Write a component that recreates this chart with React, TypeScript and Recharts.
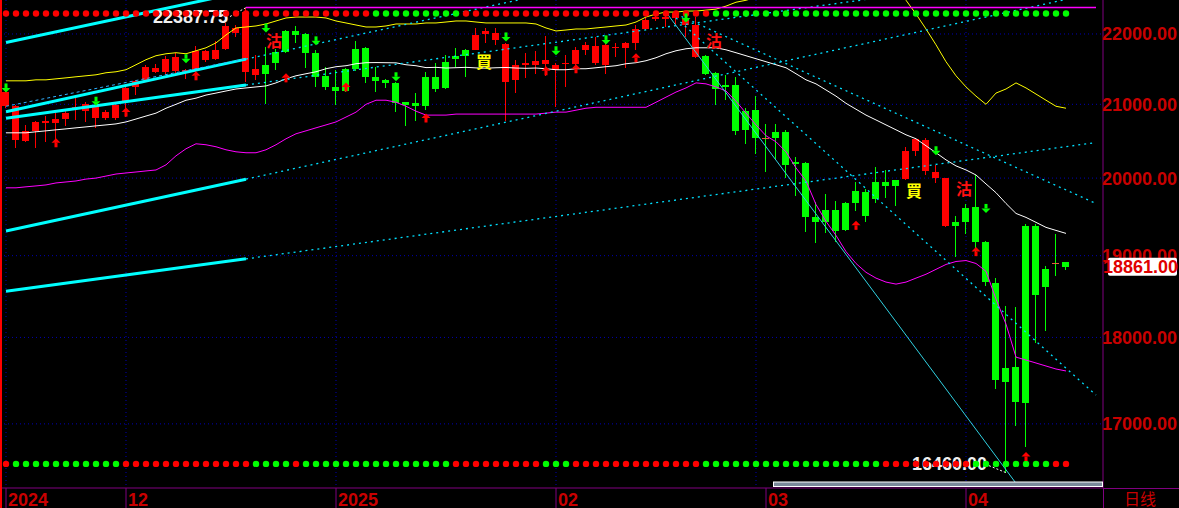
import React from 'react';
import { ComposedChart, Bar, Line, Scatter, XAxis, YAxis, CartesianGrid } from 'recharts';

const dates = [
  '2024-11-13','2024-11-14','2024-11-15','2024-11-18','2024-11-19','2024-11-20','2024-11-21','2024-11-22','2024-11-25','2024-11-26','2024-11-27','2024-11-29',
  '2024-12-02','2024-12-03','2024-12-04','2024-12-05','2024-12-06','2024-12-09','2024-12-10','2024-12-11','2024-12-12','2024-12-13','2024-12-16','2024-12-17','2024-12-18','2024-12-19','2024-12-20','2024-12-23','2024-12-24','2024-12-26','2024-12-27','2024-12-30','2024-12-31',
  '2025-01-02','2025-01-03','2025-01-06','2025-01-07','2025-01-08','2025-01-09','2025-01-10','2025-01-13','2025-01-14','2025-01-15','2025-01-16','2025-01-17','2025-01-20','2025-01-21','2025-01-22','2025-01-23','2025-01-24','2025-01-27','2025-01-28','2025-01-29','2025-01-30','2025-01-31',
  '2025-02-03','2025-02-04','2025-02-05','2025-02-06','2025-02-07','2025-02-10','2025-02-11','2025-02-12','2025-02-13','2025-02-14','2025-02-17','2025-02-18','2025-02-19','2025-02-20','2025-02-21','2025-02-24','2025-02-25','2025-02-26','2025-02-27','2025-02-28',
  '2025-03-03','2025-03-04','2025-03-05','2025-03-06','2025-03-07','2025-03-10','2025-03-11','2025-03-12','2025-03-13','2025-03-14','2025-03-17','2025-03-18','2025-03-19','2025-03-20','2025-03-21','2025-03-24','2025-03-25','2025-03-26','2025-03-27','2025-03-28','2025-03-31',
  '2025-04-01','2025-04-02','2025-04-03','2025-04-04','2025-04-07','2025-04-08','2025-04-09','2025-04-10','2025-04-11','2025-04-14','2025-04-15',
  '2025-04-16','2025-04-17','2025-04-18'
];

const opens = [
  20973,20514,20500,20635,20743,20743,20797,20946,20905,20811,
  20811,20811,21029,21243,21343,21457,21457,21471,21443,21486,
  21629,21643,21786,22015,21457,21414,21557,21743,22044,22044,
  22000,21729,21400,21243,21500,21786,21800,21386,21343,21300,
  21029,21014,21386,21386,21600,21686,21771,21771,22000,21914,
  21314,21343,21557,21557,21571,21486,21571,21571,21771,21586,
  21557,21800,21800,21871,22073,22234,22234,22234,22131,21671,
  21686,21443,21271,21271,20905,20919,20541,20622,20622,20216,
  20203,19487,19577,19577,19679,19833,19821,19949,19949,19974,
  19987,20365,20095,20000,19372,19423,19603,19615,19167,18659,
  17640,17651,19372,19372,18829,18909,18915
];
const highs = [
  21200,20986,20716,20770,20838,20878,20905,21086,21029,21014,
  20919,21000,21240,21343,21557,21571,21686,21729,21500,21829,
  21771,21900,22161,22131,22387.75,21700,21814,21786,22058,22117,
  22015,21771,21529,21486,21514,21900,21814,21529,21350,21310,
  21035,21157,21457,21586,21700,21800,21780,22088,22088,22088,
  21865,21629,21729,21757,21971,21586,21700,21814,21886,21957,
  21957,21871,21880,22131,22234,22321,22321,22321,22248,22248,
  21700,21450,21414,21386,20946,21114,20730,20730,20649,20284,
  20210,19692,19795,19705,19692,19949,19859,20149,20108,19980,
  20419,20535,20541,20176,20005,19500,19654,20041,19180,18720,
  18378,18366,19397,19397,18866,19269,18920
];
const lows = [
  20946,20405,20486,20405,20486,20419,20703,20784,20757,20676,
  20784,20784,20824,21129,21314,21443,21429,21443,21357,21343,
  21600,21629,21771,21957,21314,21343,21000,21486,21729,21871,
  21514,21243,21200,20986,21171,21471,21300,21171,21229,20892,
  20703,20770,20919,21171,21214,21529,21386,21765,21871,21843,
  20770,21157,21371,21429,21400,20959,21243,21443,21700,21557,
  21429,21671,21514,21771,22058,22190,22102,22131,21957,21657,
  21414,20986,21057,20581,20459,20324,20081,20243,20000,19769,
  19295,19154,19282,19167,19308,19564,19423,19679,19744,19628,
  19980,20297,20041,19936,19365,18988,19269,19051,18622,17395,
  16460,16978,16747,17930,18073,18744,18817
];
const closes = [
  21171,20973,20635,20757,20770,20797,20878,20959,21000,20973,
  20892,20986,21229,21329,21529,21514,21643,21671,21486,21757,
  21757,21771,22117,22088,22321,21500,21429,21586,21743,21986,
  21729,21386,21243,21186,21186,21500,21386,21329,21300,21014,
  20986,20973,20973,21214,21229,21643,21686,21986,22044,22015,
  21857,21557,21586,21614,21629,21557,21586,21771,21843,21829,
  21843,21814,21871,22073,22204,22248,22248,22307,22234,22131,
  21429,21214,21243,20635,20649,20541,20541,20541,20176,20189,
  19487,19423,19423,19308,19321,19679,19500,19731,19897,19897,
  20365,20527,20514,20081,20000,19372,19423,19167,18671,17500,
  17477,17244,17233,18512,18610,18909,18861
];

const midBand = [
  20608,20608,20608,20622,20635,20649,20662,20676,20689,20703,
  20716,20730,20757,20797,20838,20878,20946,21000,21057,21086,
  21129,21157,21186,21214,21229,21243,21257,21300,21357,21400,
  21429,21457,21500,21529,21543,21571,21586,21588,21586,21584,
  21557,21543,21516,21520,21510,21515,21520,21512,21508,21514,
  21518,21510,21506,21510,21500,21486,21486,21500,21500,21514,
  21529,21543,21571,21586,21614,21657,21714,21757,21786,21800,
  21800,21800,21771,21729,21686,21643,21600,21557,21514,21429,
  21343,21286,21200,21114,21014,20932,20851,20784,20716,20649,
  20581,20527,20432,20338,20243,20162,20108,20041,19923,19808,
  19667,19538,19487,19423,19359,19320,19282
];
const upperBand = [
  21329,21329,21329,21343,21343,21357,21371,21386,21400,21414,
  21443,21457,21486,21557,21629,21686,21714,21729,21714,21757,
  21800,21871,21986,22088,22102,22117,22146,22190,22234,22248,
  22248,22248,22234,22190,22161,22131,22102,22102,22117,22146,
  22146,22146,22161,22161,22175,22190,22190,22175,22161,22161,
  22161,22161,22161,22146,22088,22044,22058,22073,22073,22088,
  22102,22117,22131,22175,22248,22292,22321,22321,22336,22336,
  22350,22365,22409,22467,22496,22540,22584,22628,22676,22715,
  22774,22832,22876,22905,22934,22949,22934,22891,22803,22676,
  22496,22292,22073,21843,21600,21400,21243,21114,21000,21157,
  21214,21300,21229,21143,21057,20973,20946
];
const lowerBand = [
  19872,19872,19885,19897,19910,19936,19949,19962,19987,20000,
  20027,20054,20068,20081,20095,20108,20176,20297,20392,20459,
  20446,20419,20378,20351,20338,20338,20378,20446,20527,20595,
  20635,20676,20716,20757,20824,20892,21000,21057,21057,21029,
  20973,20905,20851,20851,20851,20865,20865,20865,20865,20865,
  20865,20865,20865,20865,20878,20892,20892,20919,20946,20959,
  20959,20959,20959,20959,20959,21029,21100,21171,21229,21300,
  21286,21243,21186,21043,20878,20716,20568,20486,20351,20135,
  19962,19654,19436,19256,19051,18902,18792,18720,18671,18646,
  18671,18720,18768,18829,18890,18927,18939,18902,18805,18463,
  18159,17767,17733,17698,17663,17628,17605
];

// indicator dot rows (r = red, g = green), one per candle
const topDots = 'rrrrrrrrrr rrrrrrrrrr rrrrrrrrrr rrrrrrr ggggggggg rrrrrrrrrr rrrrrrrrrr rrrrr gggggggggg gggggggggg gggggggggg gggggg'.replace(/ /g, '');
const bottomDots = 'r gggggggggg g rrrrrrrrrr rrr gggg r gggggggggg ggggg rrrrrrrrr ggg rrrrrrrrrr rrr gggggggggg gggggggg rrrrrrrrr gggggggg rr'.replace(/ /g, '');

const signalIdx = [26, 47, 70, 90, 95];
const signalText = ['沽', '買', '沽', '買', '沽'];
const signalPrice = [21914, 21614, 21914, 19846, 19872];

const upArrowIdx = [5, 12, 19, 28, 34, 42, 54, 57, 63, 85, 97, 102];
const upArrowPrice = [20473, 20892, 21400, 21371, 21243, 20811, 21471, 21500, 21657, 19385, 19051, 16637];
const downArrowIdx = [0, 9, 18, 26, 31, 39, 50, 55, 60, 68, 93, 98];
const downArrowPrice = [21229, 21043, 21643, 22088, 21900, 21386, 21957, 21757, 21914, 22234, 20365, 19603];

// drawn trend lines: start/end candle index and price
const trendFrom = [0, 0, 24, 0, 24, 0, 24, 0, 24, 0, 66, 67, 67, 24];
const trendTo = [22, 24, 55, 24, 87, 24, 106, 24, 109, 24, 101, 109, 109, 109];
const trendP0 = [21876, 20896, 21637, 20808, 21270, 19312, 19986, 18559, 18960, 20973, 22321, 22234, 22292, 22387.75];
const trendP1 = [22566, 21637, 22623, 21270, 22529, 19986, 22508, 18960, 20476, 21643, 16345, 17326, 19667, 22387.75];
const trendKind = ['thick', 'thick', 'dot', 'thick', 'dot', 'thick', 'dot', 'thick', 'dot', 'dash', 'thin', 'dot', 'dot', 'high'];

const yTicks = [17000, 18000, 19000, 20000, 21000, 22000];
const monthGridDates = ['2024-11-13', '2024-12-02', '2025-01-02', '2025-02-03', '2025-03-03', '2025-04-01'];
const monthTickDates = ['2024-11-13', '2024-12-02', '2025-01-02', '2025-02-03', '2025-03-04', '2025-04-01'];
const monthTickLabels = ['2024', '12', '2025', '02', '03', '04'];

const Y_DOMAIN: [number, number] = [16294, 22500];
const DOT_TOP = 22300;
const DOT_BOTTOM = 16556;
const N = opens.length;
const LAST = closes[N - 1];

const RED = '#ff0000';
const GREEN = '#00ff00';
const AXIS_RED = '#c80000';
const PURPLE = '#800080';
const FONT = 'Liberation Sans, Arial, sans-serif';

const hiIdx = highs.indexOf(Math.max(...highs));
const loIdx = lows.indexOf(Math.min(...lows));

const rows: any[] = (() => {
  let state = 'r';
  const out = dates.map((date, i) => {
    const row: any = { date };
    if (i < N) {
      const s = signalIdx.indexOf(i);
      if (s >= 0) {
        state = signalText[s] === '買' ? 'r' : 'g';
        row.sig = signalPrice[s];
        row.sigText = signalText[s];
      }
      row.range = [lows[i], highs[i]];
      row.o = opens[i]; row.h = highs[i]; row.l = lows[i]; row.c = closes[i];
      row.st = state;
      row.mid = midBand[i]; row.up = upperBand[i]; row.lo = lowerBand[i];
      row.dotTop = DOT_TOP; row.topCol = topDots[i];
      row.dotBot = DOT_BOTTOM; row.botCol = bottomDots[i];
    }
    trendFrom.forEach((f, k) => {
      if (i === f) row['t' + k] = trendP0[k];
      else if (i === trendTo[k]) row['t' + k] = trendP1[k];
    });
    return row;
  });
  upArrowIdx.forEach((i, k) => { out[i].upArrow = upArrowPrice[k]; });
  downArrowIdx.forEach((i, k) => { out[i].downArrow = downArrowPrice[k]; });
  out[hiIdx].extHi = highs[hiIdx];
  out[loIdx].extLo = lows[loIdx];
  return out;
})();

const Candle = (props: any) => {
  const { x, y, width, height, payload } = props;
  if (!payload || payload.o == null || !isFinite(y) || !isFinite(height)) return <g />;
  const { o, h, l, c, st } = payload;
  const lh = Math.log(h), ll = Math.log(l);
  const yOf = (p: number) => (h === l ? y : y + (height * (lh - Math.log(p))) / (lh - ll));
  const color = st === 'r' ? RED : GREEN;
  const cx = Math.round(x + width / 2);
  const top = yOf(Math.max(o, c));
  const bot = yOf(Math.min(o, c));
  if (o === c) {
    return (
      <g shapeRendering="crispEdges">
        <rect x={cx - 1} y={y} width={1} height={Math.max(1, height)} fill={color} />
        <rect x={cx - 4} y={Math.round(top) - 0.5} width={7} height={1.5} fill="#e0603c" />
      </g>
    );
  }
  return (
    <g shapeRendering="crispEdges">
      <rect x={cx - 1} y={y} width={1} height={Math.max(1, height)} fill={color} />
      <rect x={cx - 4} y={top} width={7} height={Math.max(1.5, bot - top)} fill={color} />
    </g>
  );
};

const bad = (p: any) => p.cy == null || !isFinite(p.cy) || !isFinite(p.cx);

const dotShape = (colKey: string) => (p: any) => {
  if (bad(p) || !p.payload || !p.payload[colKey]) return <g />;
  return <circle cx={p.cx} cy={p.cy} r={3.2} fill={p.payload[colKey] === 'r' ? RED : GREEN} />;
};

const UpArrow = (p: any) => {
  if (bad(p) || p.payload?.upArrow == null) return <g />;
  const { cx, cy } = p;
  return (
    <g fill={RED}>
      <path d={`M${cx - 4.5},${cy} L${cx},${cy - 4.5} L${cx + 4.5},${cy} Z`} />
      <rect x={cx - 1.5} y={cy} width={3} height={4.5} />
    </g>
  );
};

const DownArrow = (p: any) => {
  if (bad(p) || p.payload?.downArrow == null) return <g />;
  const { cx, cy } = p;
  return (
    <g fill={GREEN}>
      <path d={`M${cx - 4.5},${cy} L${cx},${cy + 4.5} L${cx + 4.5},${cy} Z`} />
      <rect x={cx - 1.5} y={cy - 4.5} width={3} height={4.5} />
    </g>
  );
};

const SignalMark = (p: any) => {
  if (bad(p) || !p.payload?.sigText) return <g />;
  const buy = p.payload.sigText === '買';
  return (
    <text x={p.cx + 8} y={p.cy} textAnchor="middle" dominantBaseline="central" fontSize={16} fontWeight="bold"
      fontFamily="Noto Sans CJK TC, Noto Sans CJK SC, sans-serif" fill={buy ? '#ffff00' : '#ff1010'}>
      {p.payload.sigText}
    </text>
  );
};

const HighLabel = (p: any) => {
  if (bad(p) || p.payload?.extHi == null) return <g />;
  const { cx, cy } = p;
  return (
    <g>
      <line x1={cx - 16} y1={cy + 9} x2={cx} y2={cy} stroke="#ffffff" strokeDasharray="2 2" />
      <text x={cx - 18} y={cy + 9} textAnchor="end" dominantBaseline="central" fontSize={18} fontWeight="bold" fontFamily={FONT} fill="#f0f0f0">
        {p.payload.extHi.toFixed(2)}
      </text>
    </g>
  );
};

const LowLabel = (p: any) => {
  if (bad(p) || p.payload?.extLo == null) return <g />;
  const { cx, cy } = p;
  return (
    <g>
      <line x1={cx - 17} y1={cy - 7} x2={cx} y2={cy} stroke="#ffffff" strokeDasharray="2 2" />
      <text x={cx - 19} y={cy - 8.5} textAnchor="end" dominantBaseline="central" fontSize={18} fontWeight="bold" fontFamily={FONT} fill="#f0f0f0">
        {p.payload.extLo.toFixed(2)}
      </text>
    </g>
  );
};

// price axis tick; the last-price tick is drawn as a white tag on top
const PriceTick = (p: any) => {
  const { x, y, payload } = p;
  const v = Number(payload.value);
  if (v === LAST) {
    return (
      <g>
        <rect x={x + 5} y={y - 9} width={69} height={18} rx={2} fill="#ffffff" />
        <text x={x} y={y} dy={6.5} fontSize={18} fontWeight="bold" fontFamily={FONT} fill="#e00000">
          {v.toFixed(2)}
        </text>
      </g>
    );
  }
  return (
    <text x={x - 1} y={y} dy={6.5} textAnchor="start" fontSize={18} fontWeight="bold" fontFamily={FONT} fill={AXIS_RED}>
      {v.toFixed(2)}
    </text>
  );
};

const MonthTick = (p: any) => {
  const { x, y, payload } = p;
  const k = monthTickDates.indexOf(payload.value);
  return (
    <g>
      <line x1={x} x2={x} y1={y} y2={y + 20} stroke={PURPLE} />
      <text x={x + 2} y={y + 18} fontSize={18} fontWeight="bold" fontFamily={FONT} fill={AXIS_RED}>
        {k >= 0 ? monthTickLabels[k] : ''}
      </text>
    </g>
  );
};

const trendStyle = (kind: string) => {
  switch (kind) {
    case 'thick': return { stroke: '#00ffff', strokeWidth: 3 };
    case 'dot': return { stroke: '#00e0ff', strokeWidth: 1.3, strokeDasharray: '2 4' };
    case 'dash': return { stroke: '#30b0ff', strokeWidth: 1, strokeDasharray: '3 3' };
    case 'thin': return { stroke: '#30d0e0', strokeWidth: 1 };
    default: return { stroke: '#ff00ff', strokeWidth: 1.5 };
  }
};

export default function App() {
  return (
    <div style={{ position: 'absolute', left: 0, top: 0, width: 1179, height: 508, background: '#000', overflow: 'hidden' }}>
      <ComposedChart width={1179} height={508} data={rows} margin={{ top: 0, right: 0, bottom: 0, left: 0 }}>
        <CartesianGrid stroke="#0000b4" strokeDasharray="1 3" horizontalValues={yTicks} verticalValues={monthGridDates} />
        <XAxis dataKey="date" ticks={monthTickDates} interval={0} tick={<MonthTick />} tickLine={false} tickSize={0} tickMargin={0}
          axisLine={{ stroke: PURPLE }} height={20} padding={{ left: 1, right: 2 }} />
        <YAxis orientation="right" scale="log" domain={Y_DOMAIN} allowDataOverflow ticks={[...yTicks, LAST]} interval={0} tick={<PriceTick />}
          tickLine={false} tickSize={0} tickMargin={0} axisLine={{ stroke: PURPLE }} width={76} />
        <Bar dataKey="range" barSize={8} shape={(p: any) => <Candle {...p} />} isAnimationActive={false} />
        <Line dataKey="up" stroke="#ffff00" strokeWidth={1} dot={false} activeDot={false} isAnimationActive={false} />
        <Line dataKey="mid" stroke="#ffffff" strokeWidth={1} dot={false} activeDot={false} isAnimationActive={false} />
        <Line dataKey="lo" stroke="#ff00ff" strokeWidth={1} dot={false} activeDot={false} isAnimationActive={false} />
        {trendKind.map((kind, k) => (
          <Line key={'t' + k} dataKey={'t' + k} connectNulls dot={false} activeDot={false} isAnimationActive={false} {...trendStyle(kind)} />
        ))}
        <Scatter dataKey="extHi" shape={HighLabel} isAnimationActive={false} />
        <Scatter dataKey="extLo" shape={LowLabel} isAnimationActive={false} />
        <Scatter dataKey="dotTop" shape={dotShape('topCol')} isAnimationActive={false} />
        <Scatter dataKey="dotBot" shape={dotShape('botCol')} isAnimationActive={false} />
        <Scatter dataKey="upArrow" shape={UpArrow} isAnimationActive={false} />
        <Scatter dataKey="downArrow" shape={DownArrow} isAnimationActive={false} />
        <Scatter dataKey="sig" shape={SignalMark} isAnimationActive={false} />
      </ComposedChart>
      <svg width={1179} height={508} style={{ position: 'absolute', left: 0, top: 0, pointerEvents: 'none' }}>
        <rect x={0} y={0} width={2} height={508} fill="#ff0000" />
        <line x1={1103} y1={488.5} x2={1179} y2={488.5} stroke={PURPLE} />
        <line x1={1103.5} y1={488} x2={1103.5} y2={508} stroke={PURPLE} />
        <rect x={773.5} y={482} width={329} height={4.5} fill="#7a8a9a" stroke="#ffffff" strokeWidth={1} />
        <text x={1124} y={505} fontSize={16} fontFamily="Noto Sans CJK SC, sans-serif" fill={AXIS_RED}>日线</text>
      </svg>
    </div>
  );
}
